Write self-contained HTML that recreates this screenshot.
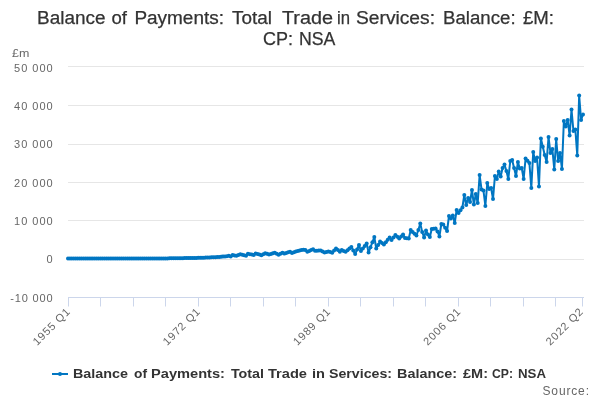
<!DOCTYPE html>
<html><head><meta charset="utf-8"><style>
html,body{margin:0;padding:0;background:#fff;width:600px;height:400px;overflow:hidden}
svg{display:block;will-change:transform;font-family:"Liberation Sans",sans-serif}
</style></head><body>
<svg width="600" height="400" viewBox="0 0 600 400">
<rect width="600" height="400" fill="#fff"/>
<g fill="#333333" font-size="18" stroke="#333333" stroke-width="0.25">
<text x="37.1" y="24" textLength="68.4" lengthAdjust="spacingAndGlyphs">Balance</text><text x="111.5" y="24" textLength="15.5" lengthAdjust="spacingAndGlyphs">of</text><text x="134.4" y="24" textLength="89.6" lengthAdjust="spacingAndGlyphs">Payments:</text><text x="232.0" y="24" textLength="40.0" lengthAdjust="spacingAndGlyphs">Total</text><text x="282.0" y="24" textLength="51.0" lengthAdjust="spacingAndGlyphs">Trade</text><text x="337.0" y="24" textLength="13.0" lengthAdjust="spacingAndGlyphs">in</text><text x="356.0" y="24" textLength="79.0" lengthAdjust="spacingAndGlyphs">Services:</text><text x="443.0" y="24" textLength="72.6" lengthAdjust="spacingAndGlyphs">Balance:</text><text x="523.0" y="24" textLength="31.0" lengthAdjust="spacingAndGlyphs">£M:</text>
<text x="262.9" y="45" textLength="30.0" lengthAdjust="spacingAndGlyphs">CP:</text><text x="299.0" y="45" textLength="36.4" lengthAdjust="spacingAndGlyphs">NSA</text>
</g>
<path d="M68 66.5 H584" stroke="#e6e6e6" stroke-width="1"/><path d="M68 105.5 H584" stroke="#e6e6e6" stroke-width="1"/><path d="M68 144.5 H584" stroke="#e6e6e6" stroke-width="1"/><path d="M68 182.5 H584" stroke="#e6e6e6" stroke-width="1"/><path d="M68 220.5 H584" stroke="#e6e6e6" stroke-width="1"/><path d="M68 259.5 H584" stroke="#e6e6e6" stroke-width="1"/>
<path d="M68 297.5 H584" stroke="#ccd6eb" stroke-width="1"/>
<path d="M68.5 297.5 V306.5" stroke="#ccd6eb" stroke-width="1"/><path d="M100.5 297.5 V306.5" stroke="#ccd6eb" stroke-width="1"/><path d="M133.5 297.5 V306.5" stroke="#ccd6eb" stroke-width="1"/><path d="M165.5 297.5 V306.5" stroke="#ccd6eb" stroke-width="1"/><path d="M198.5 297.5 V306.5" stroke="#ccd6eb" stroke-width="1"/><path d="M230.5 297.5 V306.5" stroke="#ccd6eb" stroke-width="1"/><path d="M263.5 297.5 V306.5" stroke="#ccd6eb" stroke-width="1"/><path d="M295.5 297.5 V306.5" stroke="#ccd6eb" stroke-width="1"/><path d="M328.5 297.5 V306.5" stroke="#ccd6eb" stroke-width="1"/><path d="M360.5 297.5 V306.5" stroke="#ccd6eb" stroke-width="1"/><path d="M393.5 297.5 V306.5" stroke="#ccd6eb" stroke-width="1"/><path d="M425.5 297.5 V306.5" stroke="#ccd6eb" stroke-width="1"/><path d="M458.5 297.5 V306.5" stroke="#ccd6eb" stroke-width="1"/><path d="M490.5 297.5 V306.5" stroke="#ccd6eb" stroke-width="1"/><path d="M523.5 297.5 V306.5" stroke="#ccd6eb" stroke-width="1"/><path d="M555.5 297.5 V306.5" stroke="#ccd6eb" stroke-width="1"/><path d="M582.5 297.5 V306.5" stroke="#ccd6eb" stroke-width="1"/>
<g fill="#666666" font-size="11">
<text x="12" y="57" textLength="17.3" lengthAdjust="spacingAndGlyphs">£m</text>
<text x="52.6" y="72" text-anchor="end" textLength="38.5" lengthAdjust="spacing">50 000</text><text x="52.6" y="110" text-anchor="end" textLength="38.5" lengthAdjust="spacing">40 000</text><text x="52.6" y="148" text-anchor="end" textLength="38.5" lengthAdjust="spacing">30 000</text><text x="52.6" y="187" text-anchor="end" textLength="38.5" lengthAdjust="spacing">20 000</text><text x="52.6" y="225" text-anchor="end" textLength="38.5" lengthAdjust="spacing">10 000</text><text x="52.6" y="263" text-anchor="end" textLength="7" lengthAdjust="spacing">0</text><text x="52.6" y="302" text-anchor="end" textLength="42.47" lengthAdjust="spacing">-10 000</text>
<text transform="translate(70.5 312.6) rotate(-45)" text-anchor="end" textLength="47.16" lengthAdjust="spacing">1955 Q1</text><text transform="translate(200.7 312.6) rotate(-45)" text-anchor="end" textLength="47.16" lengthAdjust="spacing">1972 Q1</text><text transform="translate(330.9 312.6) rotate(-45)" text-anchor="end" textLength="47.16" lengthAdjust="spacing">1989 Q1</text><text transform="translate(461.1 312.6) rotate(-45)" text-anchor="end" textLength="47.16" lengthAdjust="spacing">2006 Q1</text><text transform="translate(583.7 312.6) rotate(-45)" text-anchor="end" textLength="47.16" lengthAdjust="spacing">2022 Q2</text>
</g>
<g fill="none" stroke="#0076c2" stroke-width="2" stroke-linejoin="round" stroke-linecap="round">
<path d="M68.0 258.5 L69.91 258.5 L71.83 258.5 L73.74 258.5 L75.66 258.5 L77.57 258.5 L79.49 258.5 L81.4 258.5 L83.32 258.5 L85.23 258.5 L87.14 258.5 L89.06 258.5 L90.97 258.5 L92.89 258.5 L94.8 258.5 L96.72 258.5 L98.63 258.5 L100.55 258.5 L102.46 258.5 L104.38 258.5 L106.29 258.5 L108.2 258.5 L110.12 258.5 L112.03 258.5 L113.95 258.5 L115.86 258.5 L117.78 258.5 L119.69 258.5 L121.61 258.5 L123.52 258.5 L125.43 258.5 L127.35 258.5 L129.26 258.5 L131.18 258.5 L133.09 258.5 L135.01 258.5 L136.92 258.5 L138.84 258.5 L140.75 258.5 L142.67 258.5 L144.58 258.5 L146.49 258.5 L148.41 258.5 L150.32 258.5 L152.24 258.5 L154.15 258.5 L156.07 258.5 L157.98 258.5 L159.9 258.5 L161.81 258.47 L163.72 258.45 L165.64 258.42 L167.55 258.39 L169.47 258.36 L171.38 258.34 L173.3 258.31 L175.21 258.28 L177.13 258.25 L179.04 258.23 L180.96 258.2 L182.87 258.16 L184.78 258.12 L186.7 258.08 L188.61 258.04 L190.53 258.0 L192.44 257.96 L194.36 257.92 L196.27 257.88 L198.19 257.84 L200.1 257.8 L202.01 257.72 L203.93 257.64 L205.84 257.56 L207.76 257.48 L209.67 257.4 L211.59 257.32 L213.5 257.24 L215.42 257.16 L217.33 257.08 L219.25 257.0 L221.16 256.8 L223.07 256.61 L224.99 256.41 L226.9 256.21 L228.82 255.63 L230.73 256.51 L232.65 255.02 L234.56 255.38 L236.48 255.74 L238.39 255.03 L240.3 254.32 L242.22 254.76 L244.13 255.2 L246.05 255.64 L247.96 253.75 L249.88 254.13 L251.79 254.51 L253.71 254.89 L255.62 253.38 L257.54 253.98 L259.45 254.58 L261.36 255.18 L263.28 254.18 L265.19 253.18 L267.11 253.86 L269.02 254.56 L270.94 253.94 L272.85 253.34 L274.77 252.72 L276.68 253.69 L278.59 254.66 L280.51 253.64 L282.42 252.64 L284.34 253.51 L286.25 252.92 L288.17 252.32 L290.08 251.72 L292.0 253.02 L293.91 252.28 L295.83 251.53 L297.74 251.02 L299.65 250.5 L301.57 250.12 L303.48 249.75 L305.4 250.0 L307.31 251.75 L309.23 250.92 L311.14 250.08 L313.06 249.25 L314.97 250.75 L316.88 250.67 L318.8 250.58 L320.71 250.5 L322.63 251.5 L324.54 252.5 L326.46 252.0 L328.37 251.5 L330.29 252.12 L332.2 252.75 L334.12 250.62 L336.03 248.5 L337.94 250.12 L339.86 251.75 L341.77 250.0 L343.69 250.88 L345.6 251.75 L347.52 250.17 L349.43 248.58 L351.35 247.0 L353.26 250.5 L355.17 254.0 L357.09 249.5 L359.0 245.0 L360.92 251.0 L362.83 248.5 L364.75 246.0 L366.66 243.5 L368.58 252.5 L370.49 247.33 L372.41 242.17 L374.32 237.0 L376.23 248.5 L378.15 245.0 L380.06 241.5 L381.98 243.0 L383.89 244.5 L385.81 242.17 L387.72 239.83 L389.64 237.5 L391.55 240.0 L393.46 237.5 L395.38 235.0 L397.29 236.75 L399.21 238.5 L401.12 236.5 L403.04 234.5 L404.95 238.0 L406.87 238.25 L408.78 238.5 L410.7 230.0 L412.61 232.0 L414.52 233.75 L416.44 235.5 L418.35 230.0 L420.27 223.5 L422.18 232.0 L424.1 237.5 L426.01 230.5 L427.93 234.5 L429.84 237.0 L431.75 229.0 L433.67 228.75 L435.58 228.5 L437.5 231.5 L439.41 236.5 L441.33 224.0 L443.24 224.5 L445.16 227.75 L447.07 231.0 L448.99 216.0 L450.9 218.5 L452.81 215.5 L454.73 223.0 L456.64 210.0 L458.56 213.0 L460.47 210.25 L462.39 207.5 L464.3 195.0 L466.22 205.0 L468.13 198.0 L470.04 202.0 L471.96 190.0 L473.87 204.5 L475.79 194.0 L477.7 203.0 L479.62 175.0 L481.53 189.5 L483.45 190.5 L485.36 206.0 L487.28 183.0 L489.19 189.0 L491.1 188.0 L493.02 199.0 L494.93 176.0 L496.85 179.0 L498.76 171.5 L500.68 176.5 L502.59 168.0 L504.51 164.5 L506.42 171.0 L508.33 179.0 L510.25 161.0 L512.16 160.0 L514.08 168.0 L515.99 176.0 L517.91 162.0 L519.82 168.5 L521.74 168.0 L523.65 179.0 L525.57 158.5 L527.48 160.75 L529.39 163.0 L531.31 188.0 L533.22 152.0 L535.14 161.0 L537.05 157.5 L538.97 186.5 L540.88 138.5 L542.8 146.75 L544.71 155.0 L546.62 162.0 L548.54 137.0 L550.45 153.0 L552.37 149.0 L554.28 169.5 L556.2 139.0 L558.11 161.0 L560.03 153.0 L561.94 169.0 L563.86 121.0 L565.77 126.5 L567.68 120.0 L569.6 135.5 L571.51 109.5 L573.43 131.0 L575.34 129.5 L577.26 155.5 L579.17 95.5 L581.09 120.0 L583.0 114.5"/>
</g>
<g fill="#0076c2"><circle cx="68.0" cy="258.5" r="2"/><circle cx="69.91" cy="258.5" r="2"/><circle cx="71.83" cy="258.5" r="2"/><circle cx="73.74" cy="258.5" r="2"/><circle cx="75.66" cy="258.5" r="2"/><circle cx="77.57" cy="258.5" r="2"/><circle cx="79.49" cy="258.5" r="2"/><circle cx="81.4" cy="258.5" r="2"/><circle cx="83.32" cy="258.5" r="2"/><circle cx="85.23" cy="258.5" r="2"/><circle cx="87.14" cy="258.5" r="2"/><circle cx="89.06" cy="258.5" r="2"/><circle cx="90.97" cy="258.5" r="2"/><circle cx="92.89" cy="258.5" r="2"/><circle cx="94.8" cy="258.5" r="2"/><circle cx="96.72" cy="258.5" r="2"/><circle cx="98.63" cy="258.5" r="2"/><circle cx="100.55" cy="258.5" r="2"/><circle cx="102.46" cy="258.5" r="2"/><circle cx="104.38" cy="258.5" r="2"/><circle cx="106.29" cy="258.5" r="2"/><circle cx="108.2" cy="258.5" r="2"/><circle cx="110.12" cy="258.5" r="2"/><circle cx="112.03" cy="258.5" r="2"/><circle cx="113.95" cy="258.5" r="2"/><circle cx="115.86" cy="258.5" r="2"/><circle cx="117.78" cy="258.5" r="2"/><circle cx="119.69" cy="258.5" r="2"/><circle cx="121.61" cy="258.5" r="2"/><circle cx="123.52" cy="258.5" r="2"/><circle cx="125.43" cy="258.5" r="2"/><circle cx="127.35" cy="258.5" r="2"/><circle cx="129.26" cy="258.5" r="2"/><circle cx="131.18" cy="258.5" r="2"/><circle cx="133.09" cy="258.5" r="2"/><circle cx="135.01" cy="258.5" r="2"/><circle cx="136.92" cy="258.5" r="2"/><circle cx="138.84" cy="258.5" r="2"/><circle cx="140.75" cy="258.5" r="2"/><circle cx="142.67" cy="258.5" r="2"/><circle cx="144.58" cy="258.5" r="2"/><circle cx="146.49" cy="258.5" r="2"/><circle cx="148.41" cy="258.5" r="2"/><circle cx="150.32" cy="258.5" r="2"/><circle cx="152.24" cy="258.5" r="2"/><circle cx="154.15" cy="258.5" r="2"/><circle cx="156.07" cy="258.5" r="2"/><circle cx="157.98" cy="258.5" r="2"/><circle cx="159.9" cy="258.5" r="2"/><circle cx="161.81" cy="258.47" r="2"/><circle cx="163.72" cy="258.45" r="2"/><circle cx="165.64" cy="258.42" r="2"/><circle cx="167.55" cy="258.39" r="2"/><circle cx="169.47" cy="258.36" r="2"/><circle cx="171.38" cy="258.34" r="2"/><circle cx="173.3" cy="258.31" r="2"/><circle cx="175.21" cy="258.28" r="2"/><circle cx="177.13" cy="258.25" r="2"/><circle cx="179.04" cy="258.23" r="2"/><circle cx="180.96" cy="258.2" r="2"/><circle cx="182.87" cy="258.16" r="2"/><circle cx="184.78" cy="258.12" r="2"/><circle cx="186.7" cy="258.08" r="2"/><circle cx="188.61" cy="258.04" r="2"/><circle cx="190.53" cy="258.0" r="2"/><circle cx="192.44" cy="257.96" r="2"/><circle cx="194.36" cy="257.92" r="2"/><circle cx="196.27" cy="257.88" r="2"/><circle cx="198.19" cy="257.84" r="2"/><circle cx="200.1" cy="257.8" r="2"/><circle cx="202.01" cy="257.72" r="2"/><circle cx="203.93" cy="257.64" r="2"/><circle cx="205.84" cy="257.56" r="2"/><circle cx="207.76" cy="257.48" r="2"/><circle cx="209.67" cy="257.4" r="2"/><circle cx="211.59" cy="257.32" r="2"/><circle cx="213.5" cy="257.24" r="2"/><circle cx="215.42" cy="257.16" r="2"/><circle cx="217.33" cy="257.08" r="2"/><circle cx="219.25" cy="257.0" r="2"/><circle cx="221.16" cy="256.8" r="2"/><circle cx="223.07" cy="256.61" r="2"/><circle cx="224.99" cy="256.41" r="2"/><circle cx="226.9" cy="256.21" r="2"/><circle cx="228.82" cy="255.63" r="2"/><circle cx="230.73" cy="256.51" r="2"/><circle cx="232.65" cy="255.02" r="2"/><circle cx="234.56" cy="255.38" r="2"/><circle cx="236.48" cy="255.74" r="2"/><circle cx="238.39" cy="255.03" r="2"/><circle cx="240.3" cy="254.32" r="2"/><circle cx="242.22" cy="254.76" r="2"/><circle cx="244.13" cy="255.2" r="2"/><circle cx="246.05" cy="255.64" r="2"/><circle cx="247.96" cy="253.75" r="2"/><circle cx="249.88" cy="254.13" r="2"/><circle cx="251.79" cy="254.51" r="2"/><circle cx="253.71" cy="254.89" r="2"/><circle cx="255.62" cy="253.38" r="2"/><circle cx="257.54" cy="253.98" r="2"/><circle cx="259.45" cy="254.58" r="2"/><circle cx="261.36" cy="255.18" r="2"/><circle cx="263.28" cy="254.18" r="2"/><circle cx="265.19" cy="253.18" r="2"/><circle cx="267.11" cy="253.86" r="2"/><circle cx="269.02" cy="254.56" r="2"/><circle cx="270.94" cy="253.94" r="2"/><circle cx="272.85" cy="253.34" r="2"/><circle cx="274.77" cy="252.72" r="2"/><circle cx="276.68" cy="253.69" r="2"/><circle cx="278.59" cy="254.66" r="2"/><circle cx="280.51" cy="253.64" r="2"/><circle cx="282.42" cy="252.64" r="2"/><circle cx="284.34" cy="253.51" r="2"/><circle cx="286.25" cy="252.92" r="2"/><circle cx="288.17" cy="252.32" r="2"/><circle cx="290.08" cy="251.72" r="2"/><circle cx="292.0" cy="253.02" r="2"/><circle cx="293.91" cy="252.28" r="2"/><circle cx="295.83" cy="251.53" r="2"/><circle cx="297.74" cy="251.02" r="2"/><circle cx="299.65" cy="250.5" r="2"/><circle cx="301.57" cy="250.12" r="2"/><circle cx="303.48" cy="249.75" r="2"/><circle cx="305.4" cy="250.0" r="2"/><circle cx="307.31" cy="251.75" r="2"/><circle cx="309.23" cy="250.92" r="2"/><circle cx="311.14" cy="250.08" r="2"/><circle cx="313.06" cy="249.25" r="2"/><circle cx="314.97" cy="250.75" r="2"/><circle cx="316.88" cy="250.67" r="2"/><circle cx="318.8" cy="250.58" r="2"/><circle cx="320.71" cy="250.5" r="2"/><circle cx="322.63" cy="251.5" r="2"/><circle cx="324.54" cy="252.5" r="2"/><circle cx="326.46" cy="252.0" r="2"/><circle cx="328.37" cy="251.5" r="2"/><circle cx="330.29" cy="252.12" r="2"/><circle cx="332.2" cy="252.75" r="2"/><circle cx="334.12" cy="250.62" r="2"/><circle cx="336.03" cy="248.5" r="2"/><circle cx="337.94" cy="250.12" r="2"/><circle cx="339.86" cy="251.75" r="2"/><circle cx="341.77" cy="250.0" r="2"/><circle cx="343.69" cy="250.88" r="2"/><circle cx="345.6" cy="251.75" r="2"/><circle cx="347.52" cy="250.17" r="2"/><circle cx="349.43" cy="248.58" r="2"/><circle cx="351.35" cy="247.0" r="2"/><circle cx="353.26" cy="250.5" r="2"/><circle cx="355.17" cy="254.0" r="2"/><circle cx="357.09" cy="249.5" r="2"/><circle cx="359.0" cy="245.0" r="2"/><circle cx="360.92" cy="251.0" r="2"/><circle cx="362.83" cy="248.5" r="2"/><circle cx="364.75" cy="246.0" r="2"/><circle cx="366.66" cy="243.5" r="2"/><circle cx="368.58" cy="252.5" r="2"/><circle cx="370.49" cy="247.33" r="2"/><circle cx="372.41" cy="242.17" r="2"/><circle cx="374.32" cy="237.0" r="2"/><circle cx="376.23" cy="248.5" r="2"/><circle cx="378.15" cy="245.0" r="2"/><circle cx="380.06" cy="241.5" r="2"/><circle cx="381.98" cy="243.0" r="2"/><circle cx="383.89" cy="244.5" r="2"/><circle cx="385.81" cy="242.17" r="2"/><circle cx="387.72" cy="239.83" r="2"/><circle cx="389.64" cy="237.5" r="2"/><circle cx="391.55" cy="240.0" r="2"/><circle cx="393.46" cy="237.5" r="2"/><circle cx="395.38" cy="235.0" r="2"/><circle cx="397.29" cy="236.75" r="2"/><circle cx="399.21" cy="238.5" r="2"/><circle cx="401.12" cy="236.5" r="2"/><circle cx="403.04" cy="234.5" r="2"/><circle cx="404.95" cy="238.0" r="2"/><circle cx="406.87" cy="238.25" r="2"/><circle cx="408.78" cy="238.5" r="2"/><circle cx="410.7" cy="230.0" r="2"/><circle cx="412.61" cy="232.0" r="2"/><circle cx="414.52" cy="233.75" r="2"/><circle cx="416.44" cy="235.5" r="2"/><circle cx="418.35" cy="230.0" r="2"/><circle cx="420.27" cy="223.5" r="2"/><circle cx="422.18" cy="232.0" r="2"/><circle cx="424.1" cy="237.5" r="2"/><circle cx="426.01" cy="230.5" r="2"/><circle cx="427.93" cy="234.5" r="2"/><circle cx="429.84" cy="237.0" r="2"/><circle cx="431.75" cy="229.0" r="2"/><circle cx="433.67" cy="228.75" r="2"/><circle cx="435.58" cy="228.5" r="2"/><circle cx="437.5" cy="231.5" r="2"/><circle cx="439.41" cy="236.5" r="2"/><circle cx="441.33" cy="224.0" r="2"/><circle cx="443.24" cy="224.5" r="2"/><circle cx="445.16" cy="227.75" r="2"/><circle cx="447.07" cy="231.0" r="2"/><circle cx="448.99" cy="216.0" r="2"/><circle cx="450.9" cy="218.5" r="2"/><circle cx="452.81" cy="215.5" r="2"/><circle cx="454.73" cy="223.0" r="2"/><circle cx="456.64" cy="210.0" r="2"/><circle cx="458.56" cy="213.0" r="2"/><circle cx="460.47" cy="210.25" r="2"/><circle cx="462.39" cy="207.5" r="2"/><circle cx="464.3" cy="195.0" r="2"/><circle cx="466.22" cy="205.0" r="2"/><circle cx="468.13" cy="198.0" r="2"/><circle cx="470.04" cy="202.0" r="2"/><circle cx="471.96" cy="190.0" r="2"/><circle cx="473.87" cy="204.5" r="2"/><circle cx="475.79" cy="194.0" r="2"/><circle cx="477.7" cy="203.0" r="2"/><circle cx="479.62" cy="175.0" r="2"/><circle cx="481.53" cy="189.5" r="2"/><circle cx="483.45" cy="190.5" r="2"/><circle cx="485.36" cy="206.0" r="2"/><circle cx="487.28" cy="183.0" r="2"/><circle cx="489.19" cy="189.0" r="2"/><circle cx="491.1" cy="188.0" r="2"/><circle cx="493.02" cy="199.0" r="2"/><circle cx="494.93" cy="176.0" r="2"/><circle cx="496.85" cy="179.0" r="2"/><circle cx="498.76" cy="171.5" r="2"/><circle cx="500.68" cy="176.5" r="2"/><circle cx="502.59" cy="168.0" r="2"/><circle cx="504.51" cy="164.5" r="2"/><circle cx="506.42" cy="171.0" r="2"/><circle cx="508.33" cy="179.0" r="2"/><circle cx="510.25" cy="161.0" r="2"/><circle cx="512.16" cy="160.0" r="2"/><circle cx="514.08" cy="168.0" r="2"/><circle cx="515.99" cy="176.0" r="2"/><circle cx="517.91" cy="162.0" r="2"/><circle cx="519.82" cy="168.5" r="2"/><circle cx="521.74" cy="168.0" r="2"/><circle cx="523.65" cy="179.0" r="2"/><circle cx="525.57" cy="158.5" r="2"/><circle cx="527.48" cy="160.75" r="2"/><circle cx="529.39" cy="163.0" r="2"/><circle cx="531.31" cy="188.0" r="2"/><circle cx="533.22" cy="152.0" r="2"/><circle cx="535.14" cy="161.0" r="2"/><circle cx="537.05" cy="157.5" r="2"/><circle cx="538.97" cy="186.5" r="2"/><circle cx="540.88" cy="138.5" r="2"/><circle cx="542.8" cy="146.75" r="2"/><circle cx="544.71" cy="155.0" r="2"/><circle cx="546.62" cy="162.0" r="2"/><circle cx="548.54" cy="137.0" r="2"/><circle cx="550.45" cy="153.0" r="2"/><circle cx="552.37" cy="149.0" r="2"/><circle cx="554.28" cy="169.5" r="2"/><circle cx="556.2" cy="139.0" r="2"/><circle cx="558.11" cy="161.0" r="2"/><circle cx="560.03" cy="153.0" r="2"/><circle cx="561.94" cy="169.0" r="2"/><circle cx="563.86" cy="121.0" r="2"/><circle cx="565.77" cy="126.5" r="2"/><circle cx="567.68" cy="120.0" r="2"/><circle cx="569.6" cy="135.5" r="2"/><circle cx="571.51" cy="109.5" r="2"/><circle cx="573.43" cy="131.0" r="2"/><circle cx="575.34" cy="129.5" r="2"/><circle cx="577.26" cy="155.5" r="2"/><circle cx="579.17" cy="95.5" r="2"/><circle cx="581.09" cy="120.0" r="2"/><circle cx="583.0" cy="114.5" r="2"/></g>
<g>
<path d="M52 374 H68" stroke="#0076c2" stroke-width="2"/>
<circle cx="60" cy="374" r="2" fill="#0076c2"/>
<g font-size="12" font-weight="bold" fill="#333333"><text x="73.0" y="378" textLength="55.0" lengthAdjust="spacingAndGlyphs">Balance</text><text x="134.0" y="378" textLength="13.0" lengthAdjust="spacingAndGlyphs">of</text><text x="151.0" y="378" textLength="74.0" lengthAdjust="spacingAndGlyphs">Payments:</text><text x="230.9" y="378" textLength="33.1" lengthAdjust="spacingAndGlyphs">Total</text><text x="268.0" y="378" textLength="39.0" lengthAdjust="spacingAndGlyphs">Trade</text><text x="312.0" y="378" textLength="13.0" lengthAdjust="spacingAndGlyphs">in</text><text x="329.0" y="378" textLength="63.0" lengthAdjust="spacingAndGlyphs">Services:</text><text x="397.0" y="378" textLength="60.0" lengthAdjust="spacingAndGlyphs">Balance:</text><text x="463.0" y="378" textLength="25.0" lengthAdjust="spacingAndGlyphs">£M:</text><text x="492.0" y="378" textLength="21.0" lengthAdjust="spacingAndGlyphs">CP:</text><text x="518.0" y="378" textLength="28.0" lengthAdjust="spacingAndGlyphs">NSA</text></g>
</g>
<text x="542.5" y="395" font-size="12" fill="#666666" textLength="46.5" lengthAdjust="spacing">Source:</text>
</svg>
</body></html>
